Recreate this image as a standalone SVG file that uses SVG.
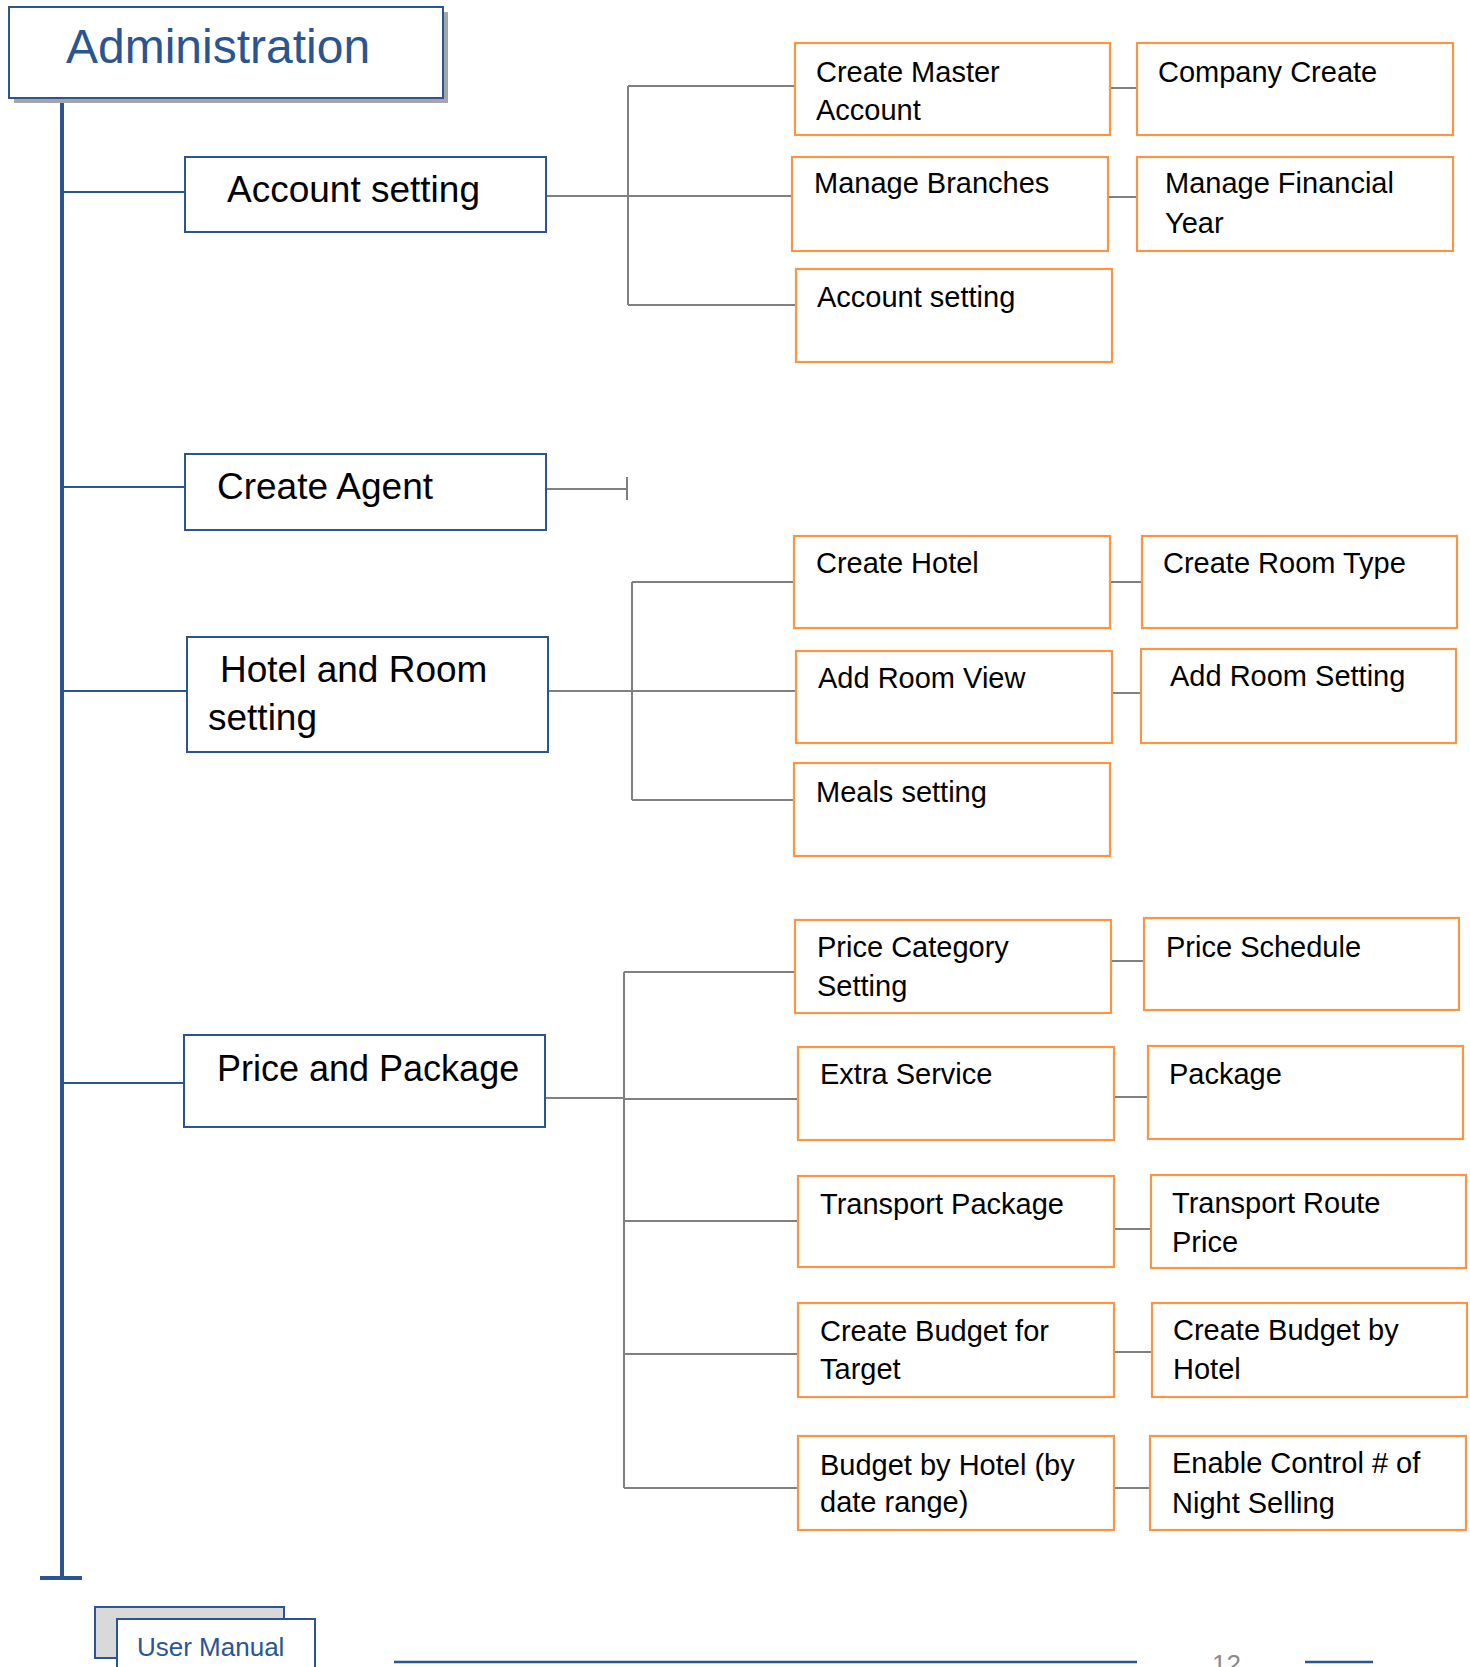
<svg xmlns="http://www.w3.org/2000/svg" width="1470" height="1667" viewBox="0 0 1470 1667">
<style>
.bg{fill:#ffffff}
.l1 rect{fill:#ffffff;stroke:#2b5591;stroke-width:2}
.l2 rect{fill:#ffffff;stroke:#f79646;stroke-width:2.2}
.t1{font-family:"Liberation Sans",Arial,sans-serif;font-size:37px;fill:#000000}
.t2{font-family:"Liberation Sans",Arial,sans-serif;font-size:29px;fill:#000000}
.blue{stroke:#2b5591;fill:none}
.gray{stroke:#808080;stroke-width:2;fill:none}
</style>
<rect class="bg" x="0" y="0" width="1470" height="1667"/>

<g id="connectors">
  <line class="blue" x1="62" y1="98" x2="62" y2="1578" stroke-width="4"/>
  <line class="blue" x1="40" y1="1578" x2="82" y2="1578" stroke-width="4"/>
  <line class="blue" x1="62" y1="192" x2="185" y2="192" stroke-width="2"/>
  <line class="blue" x1="62" y1="487" x2="185" y2="487" stroke-width="2"/>
  <line class="blue" x1="62" y1="691" x2="187" y2="691" stroke-width="2"/>
  <line class="blue" x1="62" y1="1083" x2="184" y2="1083" stroke-width="2"/>

  <path class="gray" d="M546 196 H628 M628 86 V305 M628 86 H795 M628 196 H792 M628 305 H796"/>
  <path class="gray" d="M1110 88 H1137 M1108 197 H1137"/>
  <path class="gray" d="M546 489 H627 M627 477 V500"/>
  <path class="gray" d="M548 691 H796 M632 582 V800 M632 582 H794 M632 800 H794"/>
  <path class="gray" d="M1110 582 H1142 M1112 693 H1141"/>
  <path class="gray" d="M545 1098 H624 M624 972 V1488 M624 972 H795 M624 1099 H798 M624 1221 H798 M624 1354 H798 M624 1488 H798"/>
  <path class="gray" d="M1111 961 H1144 M1114 1097 H1148 M1114 1229 H1151 M1114 1352 H1152 M1114 1488 H1150"/>
</g>

<g id="administration">
  <rect x="14" y="12" width="434" height="91" fill="#a6a6a6"/>
  <rect x="9" y="7" width="434" height="91" fill="#ffffff" stroke="#2b5591" stroke-width="2"/>
  <text x="66" y="63" font-family="'Liberation Sans',Arial,sans-serif" font-size="48" fill="#2b5591">Administration</text>
</g>

<g id="account-setting" class="l1">
  <rect x="185" y="157" width="361" height="75"/>
  <text class="t1" x="227" y="202">Account setting</text>
</g>
<g id="create-agent" class="l1">
  <rect x="185" y="454" width="361" height="76"/>
  <text class="t1" x="217" y="499">Create Agent</text>
</g>
<g id="hotel-room-setting" class="l1">
  <rect x="187" y="637" width="361" height="115"/>
  <text class="t1" x="220" y="682">Hotel and Room</text>
  <text class="t1" x="208" y="730">setting</text>
</g>
<g id="price-package" class="l1">
  <rect x="184" y="1035" width="361" height="92"/>
  <text class="t1" x="217" y="1081" style="font-size:36px">Price and Package</text>
</g>

<g id="create-master-account" class="l2">
  <rect x="795" y="43" width="315" height="92"/>
  <text class="t2" x="816" y="82">Create Master</text>
  <text class="t2" x="816" y="120">Account</text>
</g>
<g id="company-create" class="l2">
  <rect x="1137" y="43" width="316" height="92"/>
  <text class="t2" x="1158" y="82">Company Create</text>
</g>
<g id="manage-branches" class="l2">
  <rect x="792" y="157" width="316" height="94"/>
  <text class="t2" x="814" y="193">Manage Branches</text>
</g>
<g id="manage-financial-year" class="l2">
  <rect x="1137" y="157" width="316" height="94"/>
  <text class="t2" x="1165" y="193">Manage Financial</text>
  <text class="t2" x="1165" y="233">Year</text>
</g>
<g id="account-setting-child" class="l2">
  <rect x="796" y="269" width="316" height="93"/>
  <text class="t2" x="817" y="307">Account setting</text>
</g>

<g id="create-hotel" class="l2">
  <rect x="794" y="536" width="316" height="92"/>
  <text class="t2" x="816" y="573">Create Hotel</text>
</g>
<g id="create-room-type" class="l2">
  <rect x="1142" y="536" width="315" height="92"/>
  <text class="t2" x="1163" y="573">Create Room Type</text>
</g>
<g id="add-room-view" class="l2">
  <rect x="796" y="651" width="316" height="92"/>
  <text class="t2" x="818" y="688">Add Room View</text>
</g>
<g id="add-room-setting" class="l2">
  <rect x="1141" y="649" width="315" height="94"/>
  <text class="t2" x="1170" y="686">Add Room Setting</text>
</g>
<g id="meals-setting" class="l2">
  <rect x="794" y="763" width="316" height="93"/>
  <text class="t2" x="816" y="802">Meals setting</text>
</g>

<g id="price-category-setting" class="l2">
  <rect x="795" y="920" width="316" height="93"/>
  <text class="t2" x="817" y="957">Price Category</text>
  <text class="t2" x="817" y="996">Setting</text>
</g>
<g id="price-schedule" class="l2">
  <rect x="1144" y="918" width="315" height="92"/>
  <text class="t2" x="1166" y="957">Price Schedule</text>
</g>
<g id="extra-service" class="l2">
  <rect x="798" y="1047" width="316" height="93"/>
  <text class="t2" x="820" y="1084">Extra Service</text>
</g>
<g id="package" class="l2">
  <rect x="1148" y="1046" width="315" height="93"/>
  <text class="t2" x="1169" y="1084">Package</text>
</g>
<g id="transport-package" class="l2">
  <rect x="798" y="1176" width="316" height="91"/>
  <text class="t2" x="820" y="1214">Transport Package</text>
</g>
<g id="transport-route-price" class="l2">
  <rect x="1151" y="1175" width="315" height="93"/>
  <text class="t2" x="1172" y="1213">Transport Route</text>
  <text class="t2" x="1172" y="1252">Price</text>
</g>
<g id="create-budget-target" class="l2">
  <rect x="798" y="1303" width="316" height="94"/>
  <text class="t2" x="820" y="1341">Create Budget for</text>
  <text class="t2" x="820" y="1379">Target</text>
</g>
<g id="create-budget-hotel" class="l2">
  <rect x="1152" y="1303" width="315" height="94"/>
  <text class="t2" x="1173" y="1340">Create Budget by</text>
  <text class="t2" x="1173" y="1379">Hotel</text>
</g>
<g id="budget-by-hotel-date" class="l2">
  <rect x="798" y="1436" width="316" height="94"/>
  <text class="t2" x="820" y="1475">Budget by Hotel (by</text>
  <text class="t2" x="820" y="1512">date range)</text>
</g>
<g id="enable-control" class="l2">
  <rect x="1150" y="1436" width="316" height="94"/>
  <text class="t2" x="1172" y="1473">Enable Control # of</text>
  <text class="t2" x="1172" y="1513">Night Selling</text>
</g>

<g id="footer">
  <rect x="95" y="1607" width="189" height="51" fill="#d9d9d9" stroke="#2b5591" stroke-width="2"/>
  <rect x="117" y="1619" width="198" height="60" fill="#ffffff" stroke="#2b5591" stroke-width="2"/>
  <text x="137" y="1656" font-family="'Liberation Sans',Arial,sans-serif" font-size="26" fill="#2b5591">User Manual</text>
  <line x1="394" y1="1662" x2="1137" y2="1662" stroke="#2b5591" stroke-width="2.5"/>
  <line x1="1305" y1="1662" x2="1373" y2="1662" stroke="#2b5591" stroke-width="2.5"/>
  <text x="1212" y="1673" font-family="'Liberation Sans',Arial,sans-serif" font-size="26" fill="#8c8c8c">12</text>
</g>
</svg>
